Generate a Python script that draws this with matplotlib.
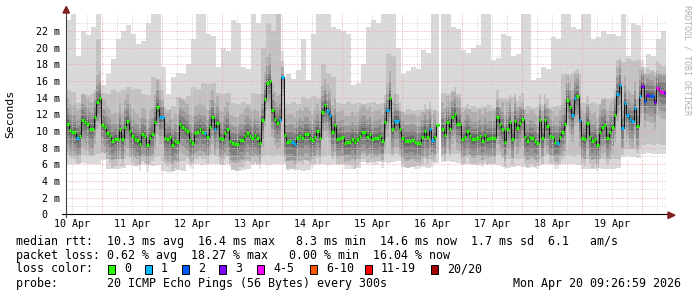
import numpy as np
import matplotlib
matplotlib.use("Agg")
import matplotlib.pyplot as plt
import matplotlib.dates as mdates
from matplotlib.patches import Rectangle, Polygon
from datetime import datetime, timedelta

# time window (10 days, 1 h median steps, 2 h smoke steps)
start = datetime(2026, 4, 10, 9, 27)
end = datetime(2026, 4, 20, 9, 27)

# median rtt in ms, one value per hour (nan = no data)
median_ms = [
    10.8, 10.1, 9.9, 9.9, 9.2, 9.4, 11.3, 11.1, 10.8, 10.3, 10.2, 11.7, 13.5, 14.0, 10.7,
    10.5, 9.8, 9.4, 8.8, 9.0, 9.0, 10.2, 9.0, 10.5, 11.2, 10.0, 9.4, 9.1, 8.9, 8.4,
    9.6, 9.4, 8.3, 9.2, 9.6, 11.1, 12.9, 11.7, 11.7, 9.2, 9.0, 9.3, 8.3, 8.8, 8.7,
    10.8, 10.5, 10.3, 10.0, 8.9, 8.6, 9.8, 9.9, 10.2, 9.9, 9.8, 9.3, 10.5, 11.7,
    10.2, 11.0, 9.2, 9.1, 9.8, 10.25, 8.85, 8.55, 8.45, 8.45, 8.9, 8.9, 9.4, 9.8, 9.45,
    9.15, 9.5, 9.15, 8.6, 11.3, 13.85, 15.8, 16.0, 12.5, 11.5, 11.0, 11.3, 16.45, 9.5, 8.7,
    8.8, 8.7, 8.4, 9.2, 9.45, 9.2, 9.7, 9.7, 9.2, 8.9, 9.3, 10.0, 9.2, 12.25, 13.1,
    12.45, 11.9, 9.9, 10.7, 9.1, 9.15, 9.3, 8.6, 8.65, 8.65, 9.1, 8.65, 9.1, 9.45, 9.9,
    9.85, 9.3, 9.65, 9.1, 9.15, 9.15, 9.45, 8.8, 11.1, 12.5, 14.0, 10.25, 11.25, 11.25, 10.25,
    9.2, 8.75, 8.75, 8.85, 8.9, 8.7, 8.6, 8.6, 9.3, 10.05, 9.3, 10.3, 8.9, 9.3, 10.75,
    np.nan, 10.25, 9.55, 11.05, 10.2, 11.65, 12.1, 10.9, 10.8, 9.1, 9.3, 10.0, 9.4, 9.1, 9.1,
    9.2, 9.45, 8.85, 9.55, 9.1, 9.2, 9.2, 9.2, 11.7, 10.8, 10.25, 8.65, 10.3, 11.1, 9.1,
    11.25, 10.4, 11.0, 11.4, 9.3, 8.85, 9.3, 9.2, 8.8, 8.6, 11.3, 9.2, 11.3, 10.6, 9.4,
    9.25, 8.7, 8.6, 9.3, 9.9, 10.8, 13.7, 12.85, 11.9, 13.95, 14.2, 11.3, 9.2, 9.0, 11.0,
    9.3, 8.8, 9.1, 8.35, 9.9, 10.5, 10.7, 9.2, 9.9, 10.45, 11.9, 14.45, 15.55, 10.35, 13.4,
    11.9, 11.5, 11.15, 12.75, 10.6, 14.15, 15.35, 13.6, 14.35, 14.15, 14.15, 13.45, 15.15, 14.85, 14.65,
    14.6,
]

# hours with lost pings (out of 20)
loss_idx = [4, 37, 38, 55, 59, 85, 86, 90, 91, 104, 105, 128, 131, 132, 145, 146,
            196, 202, 203, 205, 220, 221, 222, 223, 224, 225, 226, 227, 229,
            230, 231, 232, 233, 234, 235, 236, 237, 238, 239]
loss_cnt = [1, 1, 1, 1, 1, 1, 1, 1, 1, 1, 1, 1, 1, 1, 1, 1,
            1, 1, 1, 1, 1, 1, 1, 1, 1, 1, 1, 1, 1,
            3, 2, 3, 2, 2, 3, 4, 4, 4, 3]

# smoke (ping spread) in ms, one value per 2 hours
smoke_top = [
    23.3, 24.5, 19.0, 22.0, 21.5, 22.5, 24.5, 15.5, 16.9, 18.7,
    21.0, 22.0, 22.7, 21.7, 20.5, 20.8, 23.0, 24.5, 24.5, 17.7,
    14.5, 16.5, 17.0, 16.8, 18.0, 21.0, 24.5, 24.0, 21.7, 21.4,
    17.7, 20.0, 19.6, 23.3, 23.0, 17.7, 17.4, 24.5, 23.0, 24.5,
    24.5, 24.5, 24.5, 16.5, 16.8, 16.3, 17.3, 21.0, 16.1, 21.7,
    24.5, 24.5, 24.5, 22.5, 22.3, 22.0, 21.6, 15.5, 15.8, 18.0,
    22.5, 23.3, 23.0, 24.5, 24.5, 24.5, 20.0, 16.9, 17.2, 17.7,
    17.4, 19.7, 19.4, 24.5, 24.0, 24.5, 24.5, 22.5, 22.2, 19.7,
    19.4, 20.0, 20.3, 24.5, 24.5, 18.5, 18.8, 21.7, 21.4, 19.0,
    19.3, 24.5, 24.0, 16.1, 16.4, 17.7, 17.4, 21.3, 21.0, 24.5,
    24.5, 22.5, 22.2, 24.5, 24.0, 21.0, 21.3, 22.0, 21.7, 21.7,
    21.4, 24.5, 19.0, 23.0, 22.7, 17.7, 19.3, 19.0, 21.0, 22.0,
]
smoke_hi = [
    14.9, 14.7, 13.4, 14.5, 14.3, 14.6, 21.0, 14.6, 14.4, 14.9,
    14.7, 14.9, 15.3, 15.1, 15.0, 14.5, 14.3, 16.5, 16.3, 12.9,
    12.7, 13.0, 14.1, 13.9, 14.2, 15.3, 15.1, 15.8, 15.6, 15.8,
    14.6, 14.4, 14.6, 13.4, 13.2, 13.5, 13.3, 14.6, 14.4, 20.0,
    23.0, 22.0, 24.5, 13.4, 13.2, 13.5, 13.3, 14.1, 13.9, 14.2,
    14.0, 18.0, 17.0, 16.5, 13.4, 13.2, 13.5, 13.3, 13.4, 13.2,
    13.4, 13.5, 13.3, 13.4, 19.3, 19.0, 12.5, 12.3, 12.6, 12.4,
    12.5, 12.3, 12.6, 12.5, 12.4, 14.6, 14.4, 14.7, 14.5, 12.9,
    12.7, 13.0, 12.8, 12.9, 13.1, 12.8, 12.9, 14.0, 13.8, 14.1,
    12.9, 12.7, 13.0, 12.8, 12.9, 13.1, 12.8, 12.9, 13.0, 16.9,
    16.7, 17.0, 16.8, 13.4, 13.2, 13.5, 13.3, 14.0, 13.8, 14.1,
    18.5, 18.3, 18.6, 18.4, 18.5, 17.0, 16.8, 17.1, 16.9, 17.0,
]
smoke_lo = [
    7.1, 7.0, 7.2, 7.1, 7.0, 7.1, 7.2, 7.4, 6.7, 6.6,
    6.7, 6.6, 7.0, 6.9, 7.0, 6.9, 7.0, 6.9, 7.0, 6.4,
    6.3, 6.4, 6.3, 6.4, 7.0, 7.1, 7.0, 7.1, 7.0, 7.1,
    7.0, 7.1, 7.0, 6.5, 6.4, 6.5, 6.4, 7.0, 7.1, 7.0,
    7.1, 7.0, 7.1, 7.0, 6.4, 6.5, 6.4, 6.5, 6.4, 7.0,
    7.1, 7.0, 7.1, 7.0, 7.1, 7.0, 7.1, 6.6, 6.7, 7.2,
    7.3, 7.2, 7.3, 7.2, 7.3, 7.2, 7.3, 6.8, 6.7, 6.8,
    6.7, 6.8, 6.7, 7.3, 7.2, 7.3, 7.2, 7.3, 7.2, 7.0,
    7.1, 7.0, 7.1, 7.0, 7.1, 7.0, 7.1, 6.8, 6.7, 6.8,
    6.7, 6.8, 6.7, 6.8, 6.7, 7.0, 7.1, 7.0, 7.1, 7.0,
    7.1, 7.0, 7.1, 6.6, 6.7, 6.6, 6.7, 6.6, 6.7, 6.6,
    6.7, 7.8, 7.9, 7.8, 7.9, 8.3, 8.4, 8.3, 8.4, 8.3,
]
smoke_bot = [
    6.1, 6.0, 6.1, 6.2, 6.1, 6.0, 6.1, 6.5, 5.5, 5.4,
    5.5, 5.6, 5.9, 5.8, 5.9, 6.0, 5.9, 5.8, 5.9, 5.2,
    5.1, 5.2, 5.3, 5.2, 6.0, 6.1, 6.0, 5.9, 6.0, 6.1,
    6.0, 5.9, 6.0, 5.3, 5.2, 5.3, 5.4, 6.0, 6.1, 6.0,
    5.9, 6.0, 6.1, 6.0, 5.3, 5.4, 5.3, 5.2, 5.3, 6.0,
    6.1, 6.0, 5.9, 6.0, 6.1, 6.0, 5.9, 5.5, 5.6, 6.3,
    6.2, 6.3, 6.4, 6.3, 6.2, 6.3, 6.4, 5.7, 5.6, 5.7,
    5.8, 5.7, 5.6, 6.3, 6.2, 6.3, 6.4, 6.3, 6.2, 6.0,
    6.1, 6.0, 5.9, 6.0, 6.1, 6.0, 5.9, 5.7, 5.6, 5.7,
    5.8, 5.7, 5.6, 5.7, 5.8, 6.0, 6.1, 6.0, 5.9, 6.0,
    6.1, 6.0, 5.9, 5.5, 5.4, 5.5, 5.6, 5.5, 5.4, 5.5,
    5.6, 6.9, 7.0, 6.9, 6.8, 7.3, 7.4, 7.3, 7.2, 7.3,
]

loss_names = ['0', '1', '2', '3', '4-5', '6-10', '11-19', '20/20']
loss_colors = ['#26ff00', '#00b8ff', '#0059ff', '#7e00ff', '#ff00ff', '#ff5500', '#ff0000', '#a00000']

stats_rtt = "median rtt:  10.3 ms avg  16.4 ms max   8.3 ms min  14.6 ms now  1.7 ms sd  6.1   am/s"
stats_loss = "packet loss: 0.62 % avg  18.27 % max   0.00 % min  16.04 % now"
probe_text = "probe:       20 ICMP Echo Pings (56 Bytes) every 300s"
stamp_text = "Mon Apr 20 09:26:59 2026"

MONO = 'DejaVu Sans Mono'
W, H = 697, 297


def loss_color(n):
    if n == 0:
        return loss_colors[0]
    if n <= 3:
        return loss_colors[n]
    if n <= 5:
        return loss_colors[4]
    if n <= 10:
        return loss_colors[5]
    if n <= 19:
        return loss_colors[6]
    return loss_colors[7]


med = np.array(median_ms, dtype=float)
n_med = len(med)
t_med = mdates.date2num([start + (end - start) * i / n_med for i in range(n_med + 1)])
med_ext = np.append(med, med[-1])

n_sm = len(smoke_top)
t_sm = mdates.date2num([start + (end - start) * i / n_sm for i in range(n_sm + 1)])
ext = lambda a: np.append(a, a[-1])

losses = np.zeros(n_med, dtype=int)
losses[loss_idx] = loss_cnt

fig = plt.figure(figsize=(W / 100, H / 100), dpi=100)
fig.patch.set_facecolor('white')
ax = fig.add_axes([66 / W, 82.6 / H, 600 / W, 200 / H])
ax.set_xlim(t_med[0], t_med[-1])
ax.set_ylim(0, 24)
for s in ax.spines.values():
    s.set_visible(False)

# smoke
ax.fill_between(t_sm, ext(smoke_bot), ext(smoke_top), step='post', color='#d9d9d9', lw=0, zorder=1)
ax.fill_between(t_sm, ext(smoke_lo), ext(smoke_hi), step='post', color='#c2c2c2', lw=0, zorder=1.1)
for dlo, dhi, a in [(3.2, 3.2, 0.10), (2.3, 2.0, 0.12), (1.4, 1.2, 0.15), (0.6, 0.5, 0.18)]:
    ax.fill_between(t_med, med_ext - dlo, med_ext + dhi, step='post', color='black',
                    alpha=a, lw=0, zorder=1.2)

# missing data
for i in np.where(np.isnan(med))[0]:
    ax.axvspan(t_med[i], t_med[i + 1], color='white', lw=0, zorder=1.5)

# grid
dots = (0, (1, 1.5))
for v in range(1, 24):
    ax.axhline(v, color='#eaa8a8' if v % 2 == 0 else '#d2d2d2', lw=0.7, ls=dots, zorder=2.5)
g = datetime(2026, 4, 10, 12)
while g < end:
    ax.axvline(mdates.date2num(g), color='#eaa8a8' if g.hour == 0 else '#d2d2d2',
               lw=0.7, ls=dots, zorder=2.5)
    g += timedelta(hours=6)

# median line
ax.step(t_med, med_ext, where='post', color='#111111', lw=0.7, zorder=4)
ax.hlines(med, t_med[:-1], t_med[1:], colors=[loss_color(n) for n in losses], lw=2.3, zorder=5)

# ticks
ax.set_yticks(range(0, 24, 2))
ax.set_yticklabels(['0  '] + [f'{v} m' for v in range(2, 24, 2)], family=MONO, fontsize=7.2)
noons = [datetime(2026, 4, d, 12) for d in range(10, 20)]
ax.set_xticks(mdates.date2num(noons))
ax.set_xticklabels([f'{d.day} Apr' for d in noons], family=MONO, fontsize=7.2)
ax.tick_params(axis='both', length=0)
ax.tick_params(axis='y', pad=4.3)
ax.tick_params(axis='x', pad=3)

# axes with arrows
ax.plot([-4 / 600, 604 / 600], [0, 0], transform=ax.transAxes, color='black', lw=0.8,
        clip_on=False, zorder=6)
ax.plot([0, 0], [-3 / 200, 202 / 200], transform=ax.transAxes, color='#404040', lw=0.8,
        clip_on=False, zorder=6)
px = lambda x, y: (x / W, 1 - y / H)
fig.patches.append(Polygon([px(668, 212), px(668, 218.5), px(675, 215.2)], closed=True,
                           color='#7f1f1f', transform=fig.transFigure))
fig.patches.append(Polygon([px(63, 13), px(69.5, 13), px(66.3, 6.5)], closed=True,
                           color='#7f1f1f', transform=fig.transFigure))

# labels
fig.text(*px(10, 114), 'Seconds', rotation=90, ha='center', va='center', family=MONO, fontsize=8.2)
fig.text(*px(686.5, 5), 'RRDTOOL / TOBI OETIKER', rotation=270, ha='center', va='top',
         family=MONO, fontsize=6, color='#b0b0b0')

# legend block
fig.text(*px(16, 241), stats_rtt, ha='left', va='center', family=MONO, fontsize=8.4)
fig.text(*px(16, 255), stats_loss, ha='left', va='center', family=MONO, fontsize=8.4)
fig.text(*px(16, 269), 'loss color:', ha='left', va='center', family=MONO, fontsize=8.4)
box_x = [108, 145, 182, 219, 257, 310, 365, 431]
for bx, name, col in zip(box_x, loss_names, loss_colors):
    fig.patches.append(Rectangle(px(bx, 273.5), 7 / W, 9 / H, facecolor=col, edgecolor='black',
                                 lw=0.7, transform=fig.transFigure))
    fig.text(*px(bx + 16, 269), name, ha='left', va='center', family=MONO, fontsize=8.4)
fig.text(*px(16, 283), probe_text, ha='left', va='center', family=MONO, fontsize=8.4)
fig.text(*px(681, 283), stamp_text, ha='right', va='center', family=MONO, fontsize=8.4)

fig.savefig('out.png', dpi=100, facecolor='white')
